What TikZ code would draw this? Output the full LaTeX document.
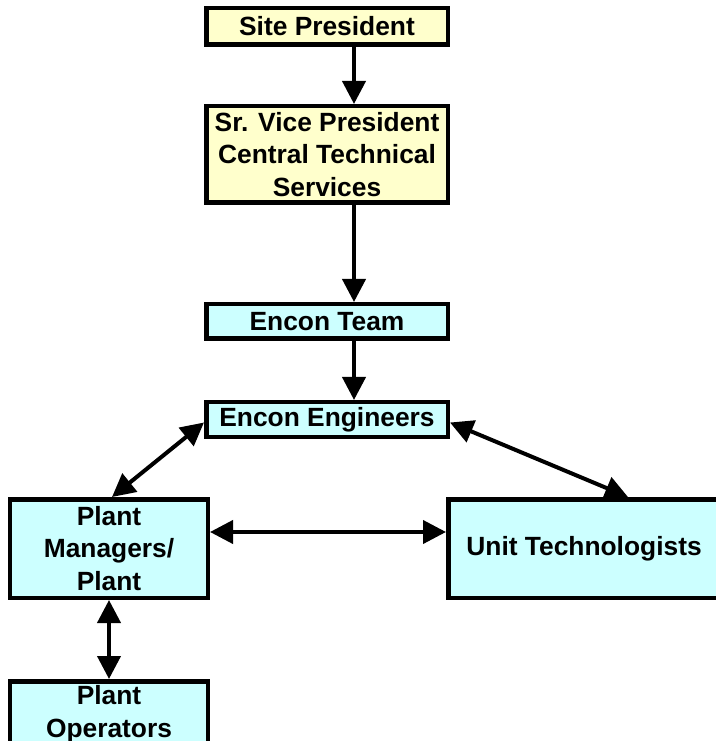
\documentclass[tikz,border=0pt]{standalone}
\usepackage{fontspec}
\setmainfont{Liberation Sans}
\usetikzlibrary{arrows.meta}
\usetikzlibrary{positioning}
\definecolor{bossyellow}{HTML}{FFFFCC}
\definecolor{teamcyan}{HTML}{CCFFFF}
\tikzset {
  org node/.style = {
    draw = black,
    line width = 0.09cm,
    rectangle,
    align = center,
    inner sep = 0,
    font = \fontsize{15}{18.5}\selectfont\bfseries
  },
  % management boxes
  boss/.style = {
    org node,
    fill = bossyellow,
    minimum width = 4.83cm
  },
  % encon and plant boxes
  team/.style = {
    org node,
    fill = teamcyan
  },
  % plant level boxes
  plant/.style = {
    team,
    minimum width = 3.95cm
  }
}
\tikzset {
  link/.style = {
    line width = 0.08cm,
    >= {Triangle[length = 0.46cm, width = 0.46cm]}
  },
  % one way link
  arr/.style = {
    link,
    ->
  },
  % two way link
  darr/.style = {
    link,
    <->
  }
}

\begin{document}
\begin{tikzpicture}
    \useasboundingbox (0,0) rectangle (14.3,-14.82);

    \node[boss, minimum height = 0.73cm] (site) at (6.54,-0.53) {Site President};
    \node[boss, minimum height = 1.93cm] (svp) [below=1.14cm of site]
      {Sr. Vice President\\Central Technical\\Services};

    \node[team, minimum width = 4.83cm, minimum height = 0.69cm] (encon) [below=1.94cm of svp] {Encon Team};
    \node[team, minimum width = 4.83cm, minimum height = 0.69cm] (eng) [below=1.18cm of encon] {Encon Engineers};

    \node[plant, minimum height = 1.97cm] (mgr) at (2.18,-10.97) {Plant\\Managers/\\Plant};
    \node[team, minimum width = 5.43cm, minimum height = 1.97cm] (unit) [right=4.72cm of mgr] {Unit Technologists};
    \node[plant, minimum height = 1.32cm] (ops) [below=1.58cm of mgr] {Plant\\Operators};

    \draw [arr] ([xshift=0.54cm]site.south) -- ([xshift=0.54cm]svp.north);
    \draw [arr] ([xshift=0.54cm]svp.south) -- ([xshift=0.54cm]encon.north);
    \draw [arr] ([xshift=0.54cm]encon.south) -- ([xshift=0.54cm]eng.north);

    \draw [darr] ([yshift=-0.06cm]eng.west) -- ([xshift=0.06cm]mgr.north);
    \draw [darr] ([yshift=-0.06cm]eng.east) -- ([xshift=0.88cm]unit.north);
    \draw [darr] ([yshift=0.33cm]mgr.east) -- ([yshift=0.33cm]unit.west);
    \draw [darr] (mgr.south) -- (ops.north);
\end{tikzpicture}
\end{document}
